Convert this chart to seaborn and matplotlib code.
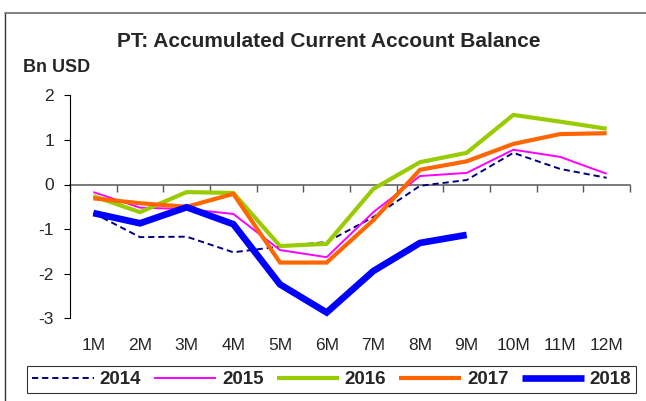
import matplotlib
matplotlib.use("Agg")
import matplotlib.pyplot as plt
import numpy as np
import pandas as pd
import seaborn as sns

months = ["1M", "2M", "3M", "4M", "5M", "6M", "7M", "8M", "9M", "10M", "11M", "12M"]
y2014 = [-0.64, -1.18, -1.17, -1.52, -1.39, -1.29, -0.73, -0.03, 0.10, 0.71, 0.35, 0.15]
y2015 = [-0.17, -0.52, -0.55, -0.66, -1.47, -1.63, -0.62, 0.19, 0.26, 0.78, 0.62, 0.24]
y2016 = [-0.26, -0.62, -0.17, -0.19, -1.38, -1.33, -0.10, 0.50, 0.71, 1.56, 1.41, 1.25]
y2017 = [-0.31, -0.42, -0.50, -0.21, -1.75, -1.75, -0.80, 0.33, 0.52, 0.91, 1.13, 1.15]
y2018 = [-0.64, -0.87, -0.51, -0.89, -2.24, -2.87, -1.94, -1.31, -1.13, np.nan, np.nan, np.nan]
years = ["2014", "2015", "2016", "2017", "2018"]
yticks = [-3, -2, -1, 0, 1, 2]

series = dict(zip(years, [y2014, y2015, y2016, y2017, y2018]))
styles = {
    "2014": dict(color="#000080", linewidth=1.4, dashes=(3.2, 2.0)),
    "2015": dict(color="#FF00FF", linewidth=1.4),
    "2016": dict(color="#99CC00", linewidth=3.0),
    "2017": dict(color="#FF6600", linewidth=3.0),
    "2018": dict(color="#0000FF", linewidth=4.8),
}

sns.set_style("white")
plt.rcParams["font.family"] = ["Liberation Sans", "DejaVu Sans"]

fig = plt.figure(figsize=(6.46, 4.01), dpi=100)
ax = fig.add_axes([70 / 646, 1 - 318.3 / 401, 560 / 646, 223 / 401])

x = np.arange(len(months))
for yr in years:
    df = pd.DataFrame({"month": x, "value": series[yr]}).dropna()
    st = styles[yr]
    sns.lineplot(data=df, x="month", y="value", ax=ax,
                 color=st["color"], linewidth=st["linewidth"], label=yr)
    ln = ax.lines[-1]
    if "dashes" in st:
        ln.set_dashes(st["dashes"])
    ln.set_solid_joinstyle("miter")
    ln.set_solid_capstyle("butt")

if ax.get_legend() is not None:
    ax.get_legend().remove()

ax.set_xlim(-0.5, len(months) - 0.5)
ax.set_ylim(-3, 2)
ax.set_xlabel("")
ax.set_ylabel("")

# category labels along the bottom, no tick marks
ax.set_xticks(x)
ax.set_xticklabels(months, fontsize=12.5)
ax.tick_params(axis="x", length=0, pad=14)

ax.set_yticks(yticks)
ax.set_yticklabels([str(v) for v in yticks], fontsize=12.5)
ax.tick_params(axis="y", direction="out", length=4.5, width=0.8, color="black", pad=7, left=True)

for s in ["top", "right", "bottom"]:
    ax.spines[s].set_visible(False)
ax.spines["left"].set_color("black")
ax.spines["left"].set_linewidth(0.8)

# zero line with category boundary ticks hanging below it
zax = ax.twiny()
zax.set_xlim(ax.get_xlim())
zax.spines["bottom"].set_position(("data", 0))
zax.spines["bottom"].set_visible(True)
zax.spines["bottom"].set_color("#555555")
zax.spines["bottom"].set_linewidth(1.1)
for s in ["top", "left", "right"]:
    zax.spines[s].set_visible(False)
zax.set_xticks(np.arange(-0.5, len(months), 1.0))
zax.xaxis.set_ticks_position("bottom")
zax.tick_params(axis="x", direction="out", length=5, width=1.0, color="#555555",
                bottom=True, top=False, labelbottom=False, labeltop=False)
zax.set_zorder(ax.get_zorder() - 1)
ax.patch.set_visible(False)

fig.text(328.5 / 646, 1 - 41.5 / 401, "PT: Accumulated Current Account Balance",
         ha="center", va="center", fontsize=15, fontweight="bold")
fig.text(23 / 646, 1 - 67.5 / 401, "Bn USD", ha="left", va="center",
         fontsize=13, fontweight="bold")

handles = ax.lines[:len(years)]
leg = fig.legend(handles, years, loc="center", bbox_to_anchor=(331.5 / 646, 1 - 379.5 / 401),
                 ncol=5, frameon=True, fancybox=False, handlelength=3.3,
                 handletextpad=0.32, columnspacing=0.7, borderpad=0.25,
                 prop={"weight": "bold", "size": 13.5})
leg.get_frame().set_edgecolor("black")
leg.get_frame().set_linewidth(0.8)

# outer frame on the left and top
fig.add_artist(plt.Line2D([5 / 646, 5 / 646], [0, 1 - 12.7 / 401], transform=fig.transFigure,
                          color="#333333", linewidth=1.0))
fig.add_artist(plt.Line2D([5 / 646, 1], [1 - 12.7 / 401, 1 - 12.7 / 401], transform=fig.transFigure,
                          color="#777777", linewidth=1.3))

fig.savefig("out.png", dpi=100)
